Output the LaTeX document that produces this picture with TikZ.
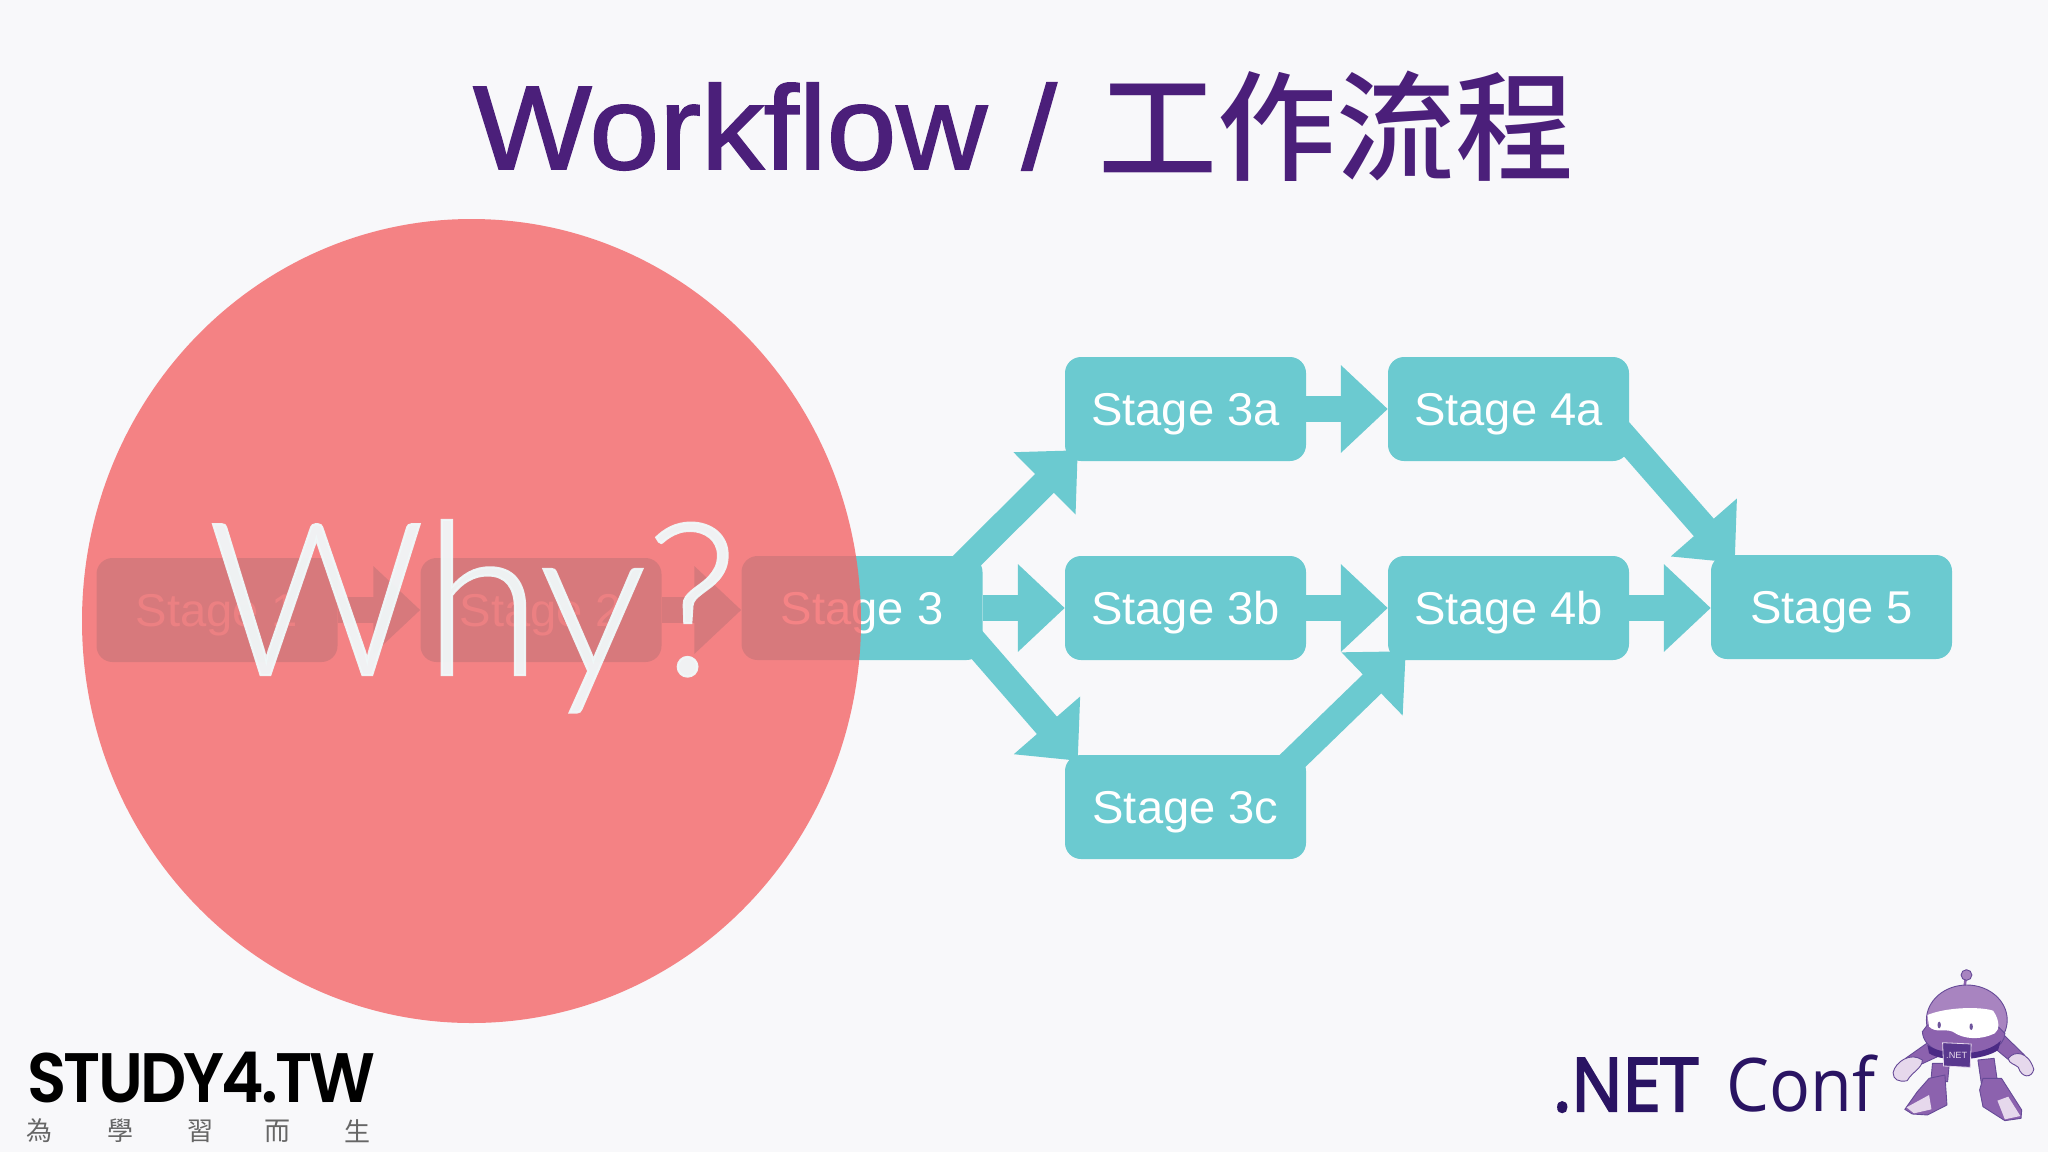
\documentclass[tikz,border=0pt]{standalone}
\usepackage{fontspec}
\usetikzlibrary{arrows.meta}
\setmainfont{Liberation Sans}[FakeStretch=1.025]
\newfontfamily\cjkfont{Noto Sans CJK TC}
\IfFontExistsTF{Noto Sans CJK TC Medium}{\newfontfamily\cjkmed{Noto Sans CJK TC Medium}}{\newfontfamily\cjkmed{Noto Sans CJK TC}[FakeBold=1.5]}
\newfontfamily\titlefont{Liberation Sans}[FakeBold=1.5,FakeStretch=1.055]
\newfontfamily\whyfont{Lato Light}[FakeBold=1]
\newfontfamily\netbold{Open Sans}[BoldFont=*,FakeStretch=0.92,FakeBold=3]
\newfontfamily\netlight{Open Sans}[FakeStretch=0.92]
\IfFontExistsTF{Poppins SemiBold}{\newfontfamily\studyfont{Poppins SemiBold}[LetterSpace=-4,FakeStretch=0.92]}{\newfontfamily\studyfont{Poppins}[FakeBold=2,LetterSpace=-4,FakeStretch=0.92]}
\definecolor{bgc}{HTML}{F8F8FA}
\definecolor{teal}{HTML}{6BCAD0}
\definecolor{pinkc}{HTML}{F36567}
\definecolor{titlec}{HTML}{4B1F7A}
\definecolor{netc}{HTML}{2A1463}
\definecolor{robL}{HTML}{A884C0}
\definecolor{robM}{HTML}{8C62AE}
\definecolor{robD}{HTML}{4B2A85}
\definecolor{robP}{HTML}{E6D8EC}
\definecolor{whyc}{HTML}{F0F8F9}
\tikzset{
  stagebox/.style={minimum width=241pt,minimum height=104pt,inner sep=0pt},
  stagefill/.style={stagebox,fill=teal,rounded corners=16pt},
  stagetext/.style={text=white,font=\fontsize{46}{50}\selectfont,inner sep=0pt,yshift=-5pt},
  blockarrow/.style={draw=teal,line width=26.5pt,-{Triangle[length=47pt,width=85pt,fill=teal]}},
  robline/.style={draw=robD!85,line width=0.9pt,line join=round}
}
\begin{document}
\begin{tikzpicture}[x=1pt,y=-1pt]
\useasboundingbox (0,0) rectangle (2048,1152);
\fill[bgc] (0,0) rectangle (2048,1152);
\node[text=titlec,font=\titlefont\fontsize{119}{130}\selectfont,anchor=base west,inner sep=0pt] (title) at (473,169) {Workflow /\hspace{7pt} {\cjkmed\raisebox{-2pt}{工作流程}}};
% box geometry
\path
 (217,610) node[stagebox] (s1) {}
 (541,610) node[stagebox] (s2) {}
 (862,608) node[stagebox] (s3) {}
 (1185.5,409) node[stagebox] (s3a) {}
 (1185.5,608) node[stagebox] (s3b) {}
 (1185.5,807) node[stagebox] (s3c) {}
 (1508.5,409) node[stagebox] (s4a) {}
 (1508.5,608) node[stagebox] (s4b) {}
 (1831.5,607) node[stagebox] (s5) {};
% connectors
\draw[blockarrow] (s1.east) -- (s2.west);
\draw[blockarrow] (s2.east) -- (s3.west |- s2.east);
\draw[blockarrow] (s3.east) -- (s3b.west);
\draw[blockarrow] (s3a.east) -- (s4a.west);
\draw[blockarrow] (s3b.east) -- (s4b.west);
\draw[blockarrow] (s4b.east) -- (s5.west |- s4b.east);
\draw[blockarrow] ([xshift=-33pt,yshift=-22pt]s3.north east) -- ([xshift=13pt,yshift=11pt]s3a.south west);
\draw[blockarrow] ([xshift=-18pt,yshift=-75pt]s3.north east) -- ([xshift=13pt,yshift=-6pt]s3c.north west);
\draw[blockarrow] ([xshift=-29pt,yshift=-21pt]s3c.north east) -- ([xshift=18pt,yshift=9pt]s4b.south west);
\draw[blockarrow] ([xshift=-15pt,yshift=36pt]s4a.south east) -- ([xshift=24pt,yshift=-8pt]s5.north west);
% box faces and labels
\foreach \n in {s1,s2,s3,s3a,s3b,s3c,s4a,s4b,s5}{\node[stagefill] at (\n) {};}
\foreach \n/\t in {s3/Stage 3,s3a/Stage 3a,s3b/Stage 3b,s3c/Stage 3c,s4a/Stage 4a,s4b/Stage 4b,s5/Stage 5}{
  \node[stagetext] at (\n) {\t};
}
\node[stagetext,text=white!70!teal] at (s1) {Stage 1};
\node[stagetext,text=white!70!teal] at (s2) {Stage 2};
% circle
\fill[pinkc,opacity=0.8] (471.5,621) ellipse [x radius=389.5,y radius=402];
\node[anchor=base,font=\whyfont\fontsize{213}{230}\selectfont,text=whyc,opacity=0.95] (why) at (473,675) {Why?};
% STUDY4 logo
\node[anchor=base west,inner sep=0pt,font=\studyfont\fontsize{70}{70}\selectfont,text=black] (study) at (27,1102) {STUDY4.TW};
\foreach \nm/\c/\x in {a/為/40,b/學/120,c/習/200,d/而/277,e/生/357}{
  \node[font=\cjkfont\fontsize{26}{26}\selectfont,text=black!60,inner sep=0pt] (st\nm) at (\x,1131) {\c};
}
% .NET Conf
\node[anchor=base west,inner sep=0pt,text=netc,font=\netbold\fontsize{74}{74}\selectfont] (net) at (1553,1111) {.NET};
\node[anchor=base west,inner sep=0pt,text=netc,font=\netlight\fontsize{74}{74}\selectfont] (conf) at (1726,1111) {Conf};
% robot
\begin{scope}[shift={(1520,950)},x=0.3367pt,y=-0.3333pt]
  \fill[robM,robline] (1215,275) -- (1145,325) -- (1165,355) -- (1240,320) -- cycle;
  \fill[robP,robline] (1108,368) .. controls (1115,335) and (1160,305) .. (1195,330) .. controls (1195,355) and (1165,365) .. (1150,392) .. controls (1125,398) and (1108,388) .. (1108,368) -- cycle;
  \fill[robM,robline] (1430,248) -- (1498,315) -- (1470,345) -- (1410,295) -- cycle;
  \fill[robP,robline] (1450,325) .. controls (1470,300) and (1510,305) .. (1526,358) .. controls (1520,385) and (1490,385) .. (1480,352) .. controls (1470,342) and (1452,342) .. (1450,325) -- cycle;
  \fill[robM,robline] (1225,340) -- (1275,340) -- (1270,395) -- (1220,395) -- cycle;
  \fill[robM,robline] (1360,330) -- (1408,325) -- (1418,395) -- (1370,400) -- cycle;
  \fill[robM,robline] (1143,478) -- (1180,425) -- (1215,385) -- (1262,375) -- (1268,465) -- (1210,495) -- (1165,492) -- cycle;
  \fill[robP] (1148,472) -- (1215,435) -- (1222,478) -- (1170,490) -- cycle;
  \fill[robM,robline] (1365,420) -- (1375,385) -- (1430,385) -- (1490,480) -- (1488,505) -- (1440,512) -- (1375,470) -- cycle;
  \fill[robP] (1418,452) -- (1450,440) -- (1486,498) -- (1440,508) -- cycle;
  \draw[robM,line width=2.6pt] (1324,80) -- (1320,115);
  \fill[robL,robline] (1326,75) circle [radius=16];
  \fill[robL,robline] (1327,210) ellipse [x radius=120,y radius=105];
  \fill[robM,robline] (1195,245) .. controls (1200,345) and (1440,335) .. (1440,250) -- (1420,230) -- (1210,225) -- cycle;
  \fill[robD] (1210,285) .. controls (1260,320) and (1380,320) .. (1428,272) -- (1420,300) .. controls (1380,330) and (1260,340) .. (1215,310) -- cycle;
  \fill[white] (1210,195) .. controls (1270,170) and (1370,170) .. (1405,182) .. controls (1425,210) and (1425,240) .. (1410,250) .. controls (1370,270) and (1320,270) .. (1285,245) .. controls (1260,235) and (1235,250) .. (1215,230) -- cycle;
  \fill[robD!80] (1245,225) ellipse [x radius=5,y radius=10];
  \fill[robD!80] (1340,230) ellipse [x radius=5,y radius=10];
  \fill[robD!85!robL,draw=robP,line width=0.8pt] (1255,278) -- (1340,282) -- (1337,352) -- (1258,348) -- cycle;
  \node[text=robP,font=\fontsize{9}{9}\selectfont,inner sep=0pt] (badge) at (1297,315) {.NET};
\end{scope}
\end{tikzpicture}
\end{document}
